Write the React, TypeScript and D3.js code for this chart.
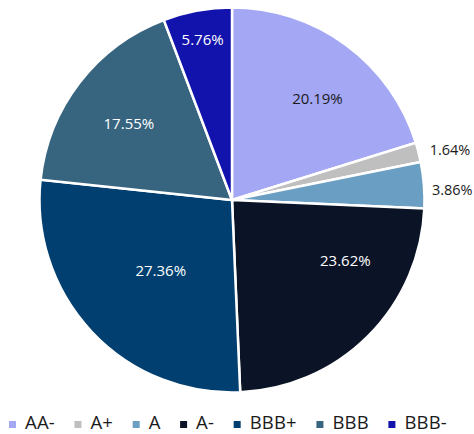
import React, { useEffect, useRef } from "react";
import * as d3 from "d3";

const categories = ["AA-", "A+", "A", "A-", "BBB+", "BBB", "BBB-"];
const values = [20.19, 1.64, 3.86, 23.62, 27.36, 17.55, 5.76];
const labels = ["20.19%", "1.64%", "3.86%", "23.62%", "27.36%", "17.55%", "5.76%"];
const colors = ["#A4A7F4", "#BFBFBF", "#6B9EC3", "#0B1327", "#003F6F", "#376580", "#1212AC"];
const labelColors = ["#1a1a1a", "#1a1a1a", "#1a1a1a", "#ffffff", "#ffffff", "#ffffff", "#ffffff"];
// label placement (Excel best fit): outside flag, radius fraction, angle shift (deg)
const labelOutside = [false, true, true, false, false, false, false];
const labelRadiusFrac = [0.69, 1.06, 1.04, 0.667, 0.52, 0.667, 0.848];
const labelAngleShift = [3.7, 0, 1.5, -17, -1.4, -1.1, 0];

const W = 474;
const H = 434;
const cx = 232;
const cy = 200;
const R = 192.5;

export default function App() {
  const legendRef = useRef<SVGGElement>(null);

  const pie = d3.pie<number>().sort(null).value((d) => d)(values);
  const arc = d3.arc<d3.PieArcDatum<number>>().innerRadius(0).outerRadius(R);

  useEffect(() => {
    const g = d3.select(legendRef.current);
    g.selectAll("*").remove();
    const items = g
      .selectAll("g.item")
      .data(categories)
      .join("g")
      .attr("class", "item");
    items
      .append("rect")
      .attr("width", 7)
      .attr("height", 7)
      .attr("y", -8)
      .attr("fill", (_d, i) => colors[i]);
    items
      .append("text")
      .attr("x", 16)
      .attr("y", 0)
      .attr("font-family", "'Open Sans', sans-serif")
      .attr("font-size", 18.5)
      .attr("letter-spacing", 0.2)
      .attr("fill", "#1a1a1a")
      .text((d) => d);
    const widths: number[] = [];
    items.each(function () {
      const t = d3.select(this).select("text").node() as SVGTextElement;
      widths.push(16 + t.getComputedTextLength());
    });
    const start = 9;
    const end = 447;
    const sum = widths.reduce((a, b) => a + b, 0);
    const gap = (end - start - sum) / (widths.length - 1);
    let x = start;
    items.attr("transform", (_d, i) => {
      const tx = x;
      x += widths[i] + gap;
      return `translate(${tx},0)`;
    });
  }, []);

  return (
    <svg width={W} height={H} style={{ position: "absolute", left: 0, top: 0 }}>
      <rect width={W} height={H} fill="#ffffff" />
      <g transform={`translate(${cx},${cy})`}>
        {pie.map((p, i) => (
          <path key={i} d={arc(p) || ""} fill={colors[i]} stroke="#ffffff" strokeWidth={2.5} />
        ))}
        {pie.map((p, i) => {
          const mid = (p.startAngle + p.endAngle) / 2 + (labelAngleShift[i] * Math.PI) / 180;
          const r = R * labelRadiusFrac[i];
          const x = r * Math.sin(mid);
          const y = -r * Math.cos(mid);
          return (
            <text
              key={i}
              x={x}
              y={y}
              dy="0.35em"
              textAnchor={labelOutside[i] ? "start" : "middle"}
              fontFamily="'Open Sans', sans-serif"
              fontSize={labelOutside[i] ? 14.5 : 15}
              fill={labelColors[i]}
            >
              {labels[i]}
            </text>
          );
        })}
      </g>
      <g ref={legendRef} transform="translate(0,429)" />
    </svg>
  );
}
